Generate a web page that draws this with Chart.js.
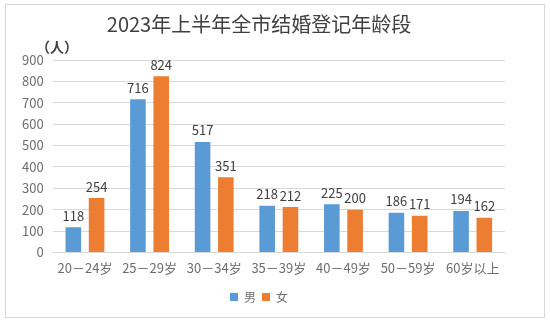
<!DOCTYPE html>
<html>
<head>
<meta charset="utf-8">
<script src="https://cdn.jsdelivr.net/npm/chart.js@4.4.0/dist/chart.umd.min.js"></script>
<style>
  html, body { margin: 0; padding: 0; background: #fff; }
  #wrap { position: relative; width: 550px; height: 323px; }
</style>
</head>
<body>
<div id="wrap"><canvas id="chart" width="550" height="323"></canvas></div>
<script>
// Data
const ageGroups = ['20－24岁', '25－29岁', '30－34岁', '35－39岁', '40－49岁', '50－59岁', '60岁以上']
const maleCounts = [118, 716, 517, 218, 225, 186, 194]
const femaleCounts = [254, 824, 351, 212, 200, 171, 162]
const yTicks = [0, 100, 200, 300, 400, 500, 600, 700, 800, 900]

const FONT = "'Noto Sans CJK SC', 'Noto Sans', sans-serif"

// Border + unit label + value labels
const decorPlugin = {
  id: 'decor',
  beforeDraw (chart) {
    const ctx = chart.ctx
    ctx.save()
    ctx.fillStyle = '#fff'
    ctx.fillRect(0, 0, chart.width, chart.height)
    ctx.strokeStyle = '#d9d9d9'
    ctx.lineWidth = 1
    ctx.strokeRect(5.5, 4.5, 539, 313)
    ctx.restore()
  },
  afterDatasetsDraw (chart) {
    const ctx = chart.ctx
    ctx.save()
    ctx.fillStyle = '#404040'
    ctx.font = 'bold 14px ' + FONT
    ctx.textAlign = 'center'
    ctx.textBaseline = 'middle'
    ctx.fillText('（人）', 57, 47)

    ctx.font = '13px ' + FONT
    ctx.textBaseline = 'bottom'
    chart.data.datasets.forEach((ds, i) => {
      chart.getDatasetMeta(i).data.forEach((bar, j) => {
        ctx.fillText(String(ds.data[j]), bar.x, bar.y - 5)
      })
    })
    ctx.restore()
  }
}

new Chart(document.getElementById('chart'), {
  type: 'bar',
  data: {
    labels: ageGroups,
    datasets: [
      { label: '男', data: maleCounts, backgroundColor: '#5b9bd5' },
      { label: '女', data: femaleCounts, backgroundColor: '#ed7d31' }
    ]
  },
  options: {
    responsive: false,
    animation: false,
    devicePixelRatio: 1,
    categoryPercentage: 0.72,
    barPercentage: 0.67,
    layout: { padding: { left: 13, right: 45, top: 12, bottom: 10 } },
    scales: {
      x: {
        grid: { display: false },
        border: { color: '#d9d9d9' },
        ticks: { color: '#6e6e6e', font: { family: FONT, size: 13 }, padding: 0 },
        afterFit (scale) { scale.height += 9 }
      },
      y: {
        min: 0,
        max: 900,
        afterBuildTicks (axis) { axis.ticks = yTicks.map(v => ({ value: v })) },
        grid: { color: '#d9d9d9', drawTicks: false },
        border: { display: false },
        ticks: { color: '#6e6e6e', font: { family: FONT, size: 13 }, padding: 9 }
      }
    },
    plugins: {
      title: {
        display: true,
        text: '2023年上半年全市结婚登记年龄段',
        color: '#404040',
        font: { family: FONT, size: 20, weight: 'normal' },
        padding: { top: 0, bottom: 24 }
      },
      legend: {
        position: 'bottom',
        labels: {
          boxWidth: 8,
          boxHeight: 8,
          color: '#6e6e6e',
          font: { family: FONT, size: 12 },
          padding: 6
        }
      },
      tooltip: { enabled: false }
    }
  },
  plugins: [decorPlugin]
})
</script>
</body>
</html>
